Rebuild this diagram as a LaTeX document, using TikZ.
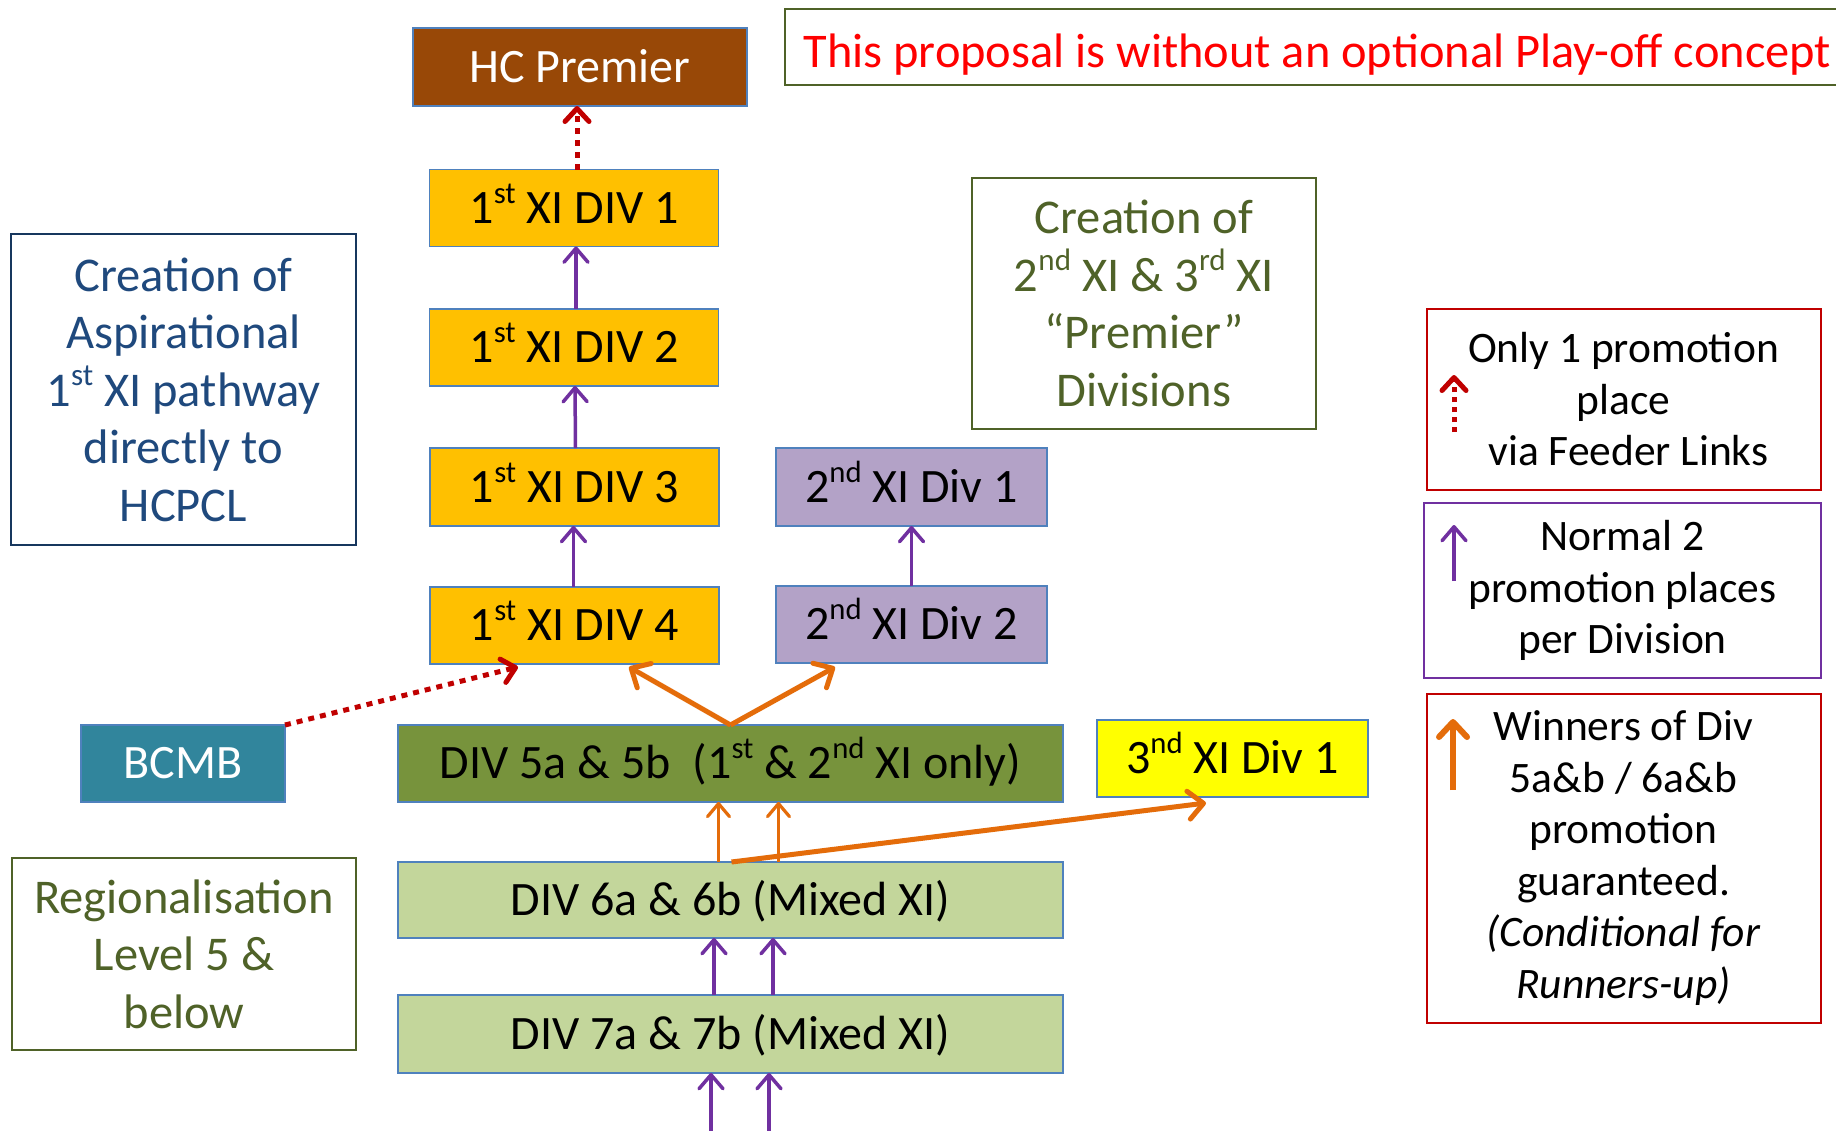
\documentclass[tikz,border=0pt]{standalone}
\usepackage{fontspec}
\setmainfont{Carlito}
\usepackage{graphicx}
\usetikzlibrary{arrows.meta,calc}
\definecolor{brownhc}{HTML}{984807}
\definecolor{gold}{HTML}{FFC000}
\definecolor{lav}{HTML}{B3A2C7}
\definecolor{olivefill}{HTML}{77933C}
\definecolor{lgreen}{HTML}{C3D69B}
\definecolor{tealb}{HTML}{31859C}
\definecolor{yel}{HTML}{FFFF00}
\definecolor{boxblue}{HTML}{4F81BD}
\definecolor{orng}{HTML}{E46C0A}
\definecolor{purp}{HTML}{7030A0}
\definecolor{dred}{HTML}{C00000}
\definecolor{oliv}{HTML}{4F6228}
\definecolor{navytext}{HTML}{1F497D}
\definecolor{navyb}{HTML}{17375E}
\newcommand\supr[1]{\raisebox{0.42em}{\scalebox{0.64}{#1}}}
\begin{document}
\begin{tikzpicture}[x=1pt,y=-1pt,
  every node/.style={inner sep=0pt, outer sep=0pt},
  lvl/.style={draw=boxblue, line width=1.6pt, font=\fontsize{48}{57}\selectfont, align=center, text height=30.9pt, text depth=0pt},
  note/.style={line width=2pt, font=\fontsize{48.5}{57.5}\selectfont, align=center},
  leg/.style={line width=2pt, font=\fontsize{43.5}{51.5}\selectfont, align=center},
  pa/.style={draw=purp, line width=3.5pt, -{Straight Barb[length=14pt,width=24pt,round]}},
  oa/.style={draw=orng, line width=5pt, -{Straight Barb[length=15pt,width=28pt,round]}},
  oat/.style={draw=orng, line width=3.2pt, -{Straight Barb[length=13pt,width=22pt,round]}},
  ra/.style={draw=dred, line width=5pt, dash pattern=on 6pt off 6pt, -{Straight Barb[length=13pt,width=24pt,round]}},
]
\useasboundingbox (0,0) rectangle (1836,1130);
\fill[white] (0,0) rectangle (1836,1130);

% title
\node[draw=oliv, line width=2.5pt, minimum width=1065, minimum height=76, text height=40pt, text depth=0pt,
  font=\fontsize{48.4}{56}\selectfont, text=red] (title) at (1317.5,47) {This proposal is without an optional Play-off concept};

% levels
\node[lvl, fill=brownhc, text=white, minimum width=334, minimum height=78] (hc) at (580,67) {HC Premier};
\node[lvl, fill=gold, minimum width=289, minimum height=77] (d1) at (574,208) {1\supr{st} XI DIV 1};
\node[lvl, fill=gold, minimum width=289, minimum height=77] (d2) at (574,347.5) {1\supr{st} XI DIV 2};
\node[lvl, fill=gold, minimum width=289, minimum height=78] (d3) at (574.5,487) {1\supr{st} XI DIV 3};
\node[lvl, fill=gold, minimum width=289, minimum height=77] (d4) at (574.5,625.5) {1\supr{st} XI DIV 4};
\node[lvl, fill=lav, minimum width=271, minimum height=78] (s1) at (911.5,487) {2\supr{nd} XI Div 1};
\node[lvl, fill=lav, minimum width=271, minimum height=77] (s2) at (911.5,624.5) {2\supr{nd} XI Div 2};
\node[lvl, fill=olivefill, minimum width=665, minimum height=77] (d5) at (730.5,763.5) {DIV 5a \& 5b\ \ (1\supr{st} \& 2\supr{nd} XI only)};
\node[lvl, fill=tealb, text=white, minimum width=204, minimum height=77] (bcmb) at (183,763.5) {BCMB};
\node[lvl, fill=yel, minimum width=271, minimum height=77] (t1) at (1232.5,758.5) {3\supr{nd} XI Div 1};
\node[lvl, fill=lgreen, minimum width=665, minimum height=76] (d6) at (730.5,900) {DIV 6a \& 6b (Mixed XI)};
\node[lvl, fill=lgreen, minimum width=665, minimum height=78] (d7) at (730.5,1034) {DIV 7a \& 7b (Mixed XI)};

% notes
\node[note, draw=navyb, line width=2.5pt, text=navytext, minimum width=345, minimum height=311] (asp) at (183.5,389.5)
  {Creation of\\Aspirational\\1\supr{st} XI pathway\\directly to\\HCPCL};
\node[note, draw=oliv, text=oliv, minimum width=344, minimum height=192] (reg) at (184,954)
  {Regionalisation\\Level 5 \&\\below};
\node[note, draw=oliv, text=oliv, minimum width=344, minimum height=251] (cre) at (1144,303.5)
  {Creation of\\2\supr{nd} XI \& 3\supr{rd} XI\\“Premier”\\Divisions};

% legend
\node[leg, draw=dred, minimum width=394, minimum height=181] (leg1) at (1623.5,399.5)
  {Only 1 promotion\\place\\\ via Feeder Links};
\node[leg, draw=purp, minimum width=397, minimum height=175] (leg2) at (1622.5,590.5)
  {Normal 2\\promotion places\\per Division};
\node[leg, draw=dred, minimum width=394, minimum height=329] (leg3) at (1623.5,858)
  {Winners of Div\\5a\&b / 6a\&b\\promotion\\guaranteed.\\\textit{(Conditional for}\\\textit{Runners-up)}};

\coordinate (l1a) at (1454,432); \coordinate (l1b) at (1454,375);
\coordinate (l2a) at (1454,581); \coordinate (l2b) at (1454,525);
\coordinate (l3a) at (1453,790); \coordinate (l3b) at (1453,719);
\draw[ra, dash pattern=on 5pt off 5pt] (l1a) -- (l1b);
\draw[pa] (l2a) -- (l2b);
\draw[oa, line width=6pt] (l3a) -- (l3b);

% connectors
\draw[ra] ($(d1.north)+(3,0)$) -- ($(hc.south)+(-3,0)$);
\draw[pa] ($(d2.north)+(2,0)$) -- ($(d1.south)+(2,0)$);
\draw[pa] ($(d3.north)+(1,0)$) -- ($(d2.south)+(1,0)$);
\draw[pa] ($(d4.north)+(-1,0)$) -- ($(d3.south)+(-1,0)$);
\draw[pa] (s2.north) -- (s1.south);
\draw[ra] (bcmb.north east) -- ($(d4.south west)+(88,3)$);
\draw[oa] (d5.north) -- ($(d4.south west)+(199,3)$);
\draw[oa] (d5.north) -- ($(s2.south west)+(59,4)$);
\draw[oat] ($(d6.north)+(-12,0)$) -- ($(d5.south)+(-12,0)$);
\draw[oat] ($(d6.north)+(48,0)$) -- ($(d5.south)+(48,0)$);
\draw[oa] ($(d6.north)+(1,0)$) -- ($(t1.south west)+(109,6)$);
\draw[pa] ($(d7.north)+(-16.5,0)$) -- ($(d6.south)+(-16.5,0)$);
\draw[pa] ($(d7.north)+(42.5,0)$) -- ($(d6.south)+(42.5,0)$);
\coordinate (in1) at (711,1132); \coordinate (in2) at (769,1132);
\draw[pa] (in1) -- ($(d7.south)+(-19.5,0)$);
\draw[pa] (in2) -- ($(d7.south)+(38.5,0)$);
\end{tikzpicture}
\end{document}
